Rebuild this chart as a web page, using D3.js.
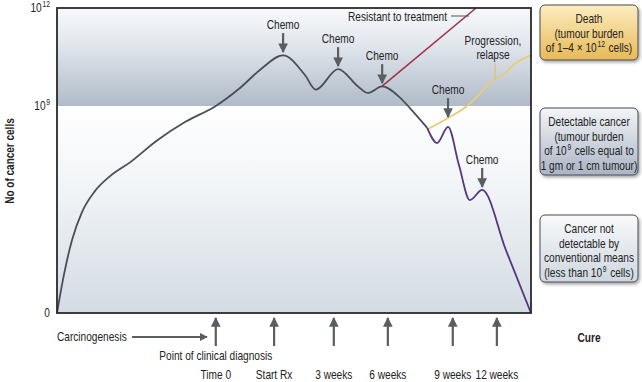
<!DOCTYPE html>
<html>
<head>
<meta charset="utf-8">
<script src="https://cdn.jsdelivr.net/npm/d3@7"></script>
<style>
  body { margin: 0; background: #fff; }
  text { font-family: "Liberation Sans", Arial, sans-serif; fill: #222; font-size: 13.5px; white-space: pre; }
</style>
</head>
<body>
<div id="chart"></div>
<script>
// Tumour growth vs time (log cells). Time is in arbitrary units 0..100 across the plot.

// main growth curve, grey (t, log10 cells)
var growth = [[0,0],[1.5,1.7],[3.2,3.2],[5.3,4.4],[8,5.3],[11.2,5.95],[15.4,6.55],[21.1,7.5],[27,8.3],
  [33.5,9.0],[38.6,9.55],[42.8,10.1],[47.7,10.55],[52.3,9.95],[54.6,9.5],[59.3,10.13],[63.5,9.6],
  [65.6,9.4],[68.6,9.6],[72.4,9.25],[74.5,8.9],[78.1,8.05]];
// response to further chemo, purple
var response = [[78.1,8.05],[80.2,7.39],[82.5,8.09],[84.8,6.43],[87.1,4.91],[89.7,5.35],[94.7,2.74],[100,0]];
// relapse, yellow
var relapse = [[78.3,8.0],[82.5,8.48],[86.5,9.0],[89.2,9.37],[92.0,9.8],[94.5,10.0],[96.2,10.25],[100,10.56]];
// resistant, red
var resistant = [[68.6,9.61],[88.4,12]];

// chemo arrows: time and level of arrow tip
var chemoT = [47.7, 59.3, 68.6, 82.5, 89.7];
var chemoV = [10.65, 10.22, 9.7, 8.52, 5.48];

// timeline marks along the bottom
var timeT = [33.5, 45.8, 58.4, 69.8, 83.5, 92.8];
var timeLabels = ["Time 0", "Start Rx", "3 weeks", "6 weeks", "9 weeks", "12 weeks"];

// y ticks
var yTicks = [0, 9, 12];

// boxes on the right, each line is a list of [text, isSuperscript]
var boxLines = [
  [[["Death"]], [["(tumour burden"]], [["of 1–4 × 10"], ["12", 1], [" cells)"]]],
  [[["Detectable cancer"]], [["(tumour burden"]], [["of 10"], ["9", 1], [" cells equal to"]], [["1 gm or 1 cm tumour)"]]],
  [[["Cancer not"]], [["detectable by"]], [["conventional means"]], [["(less than 10"], ["9", 1], [" cells)"]]]
];

var width = 642, height = 382;
var narrow = 0.75; // horizontal squeeze to mimic a narrow face
var svg = d3.select("#chart").append("svg").attr("width", width).attr("height", height);
var defs = svg.append("defs");

var x = d3.scaleLinear().domain([0, 100]).range([57, 531]);
var y = d3.scaleLinear().domain([0, 9, 12]).range([313, 106, 8]);

// text squeezed horizontally; segmented lines are laid out piece by piece (superscripts raised)
function label(parent, px, py, segs, anchor) {
  var g = parent.append("g").attr("transform", "translate(" + px + "," + py + ") scale(" + narrow + ",1)");
  if (typeof segs === "string") {
    return g.append("text").attr("text-anchor", anchor || "middle").text(segs);
  }
  var parts = segs.map(function(s) {
    var t = g.append("text").text(s[0]);
    if (s[1]) t.attr("y", -5).style("font-size", "9px");
    return t;
  });
  var gap = 1;
  var widths = parts.map(function(t) { return t.node().getComputedTextLength(); });
  var total = d3.sum(widths) + gap * (parts.length - 1);
  var start = anchor === "end" ? -total : anchor === "start" ? 0 : -total / 2;
  parts.forEach(function(t, i) { t.attr("x", start); start += widths[i] + gap; });
  return g;
}

function grad(id, stops) {
  var g = defs.append("linearGradient").attr("id", id).attr("x1", 0).attr("y1", 0).attr("x2", 0).attr("y2", 1);
  stops.forEach(function(s) { g.append("stop").attr("offset", s[0]).attr("stop-color", s[1]); });
}
grad("gTop", [[0, "#f7f9fb"], [0.35, "#e3e8ee"], [1, "#b0bbc8"]]);
grad("gBot", [[0, "#ffffff"], [0.4, "#f1f4f7"], [1, "#d3dbe3"]]);
grad("gDeath", [[0, "#fcedc0"], [1, "#e8b957"]]);
grad("gDetect", [[0, "#f3f5f8"], [1, "#a9b5c4"]]);
grad("gNot", [[0, "#f8f9fb"], [1, "#cfd7e0"]]);
var boxFill = ["url(#gDeath)", "url(#gDetect)", "url(#gNot)"];

var shadow = defs.append("filter").attr("id", "shadow").attr("x", "-10%").attr("y", "-10%").attr("width", "130%").attr("height", "130%");
shadow.append("feDropShadow").attr("dx", 1.5).attr("dy", 2).attr("stdDeviation", 1.5).attr("flood-color", "#000").attr("flood-opacity", 0.35);

defs.append("marker").attr("id", "head").attr("viewBox", "0 0 10 10").attr("refX", 9).attr("refY", 5)
  .attr("markerWidth", 4.4).attr("markerHeight", 4.4).attr("orient", "auto")
  .append("path").attr("d", "M0,0L10,5L0,10z").attr("fill", "#5a5d62");

// background bands
svg.append("rect").attr("x", x(0)).attr("y", y(12)).attr("width", x(100) - x(0)).attr("height", y(9) - y(12)).attr("fill", "url(#gTop)");
svg.append("rect").attr("x", x(0)).attr("y", y(9)).attr("width", x(100) - x(0)).attr("height", y(0) - y(9)).attr("fill", "url(#gBot)");

// curves
var line = d3.line().x(function(d) { return x(d[0]); }).y(function(d) { return y(d[1]); }).curve(d3.curveMonotoneX);
svg.append("path").attr("d", line(relapse)).attr("fill", "none").attr("stroke", "#e9cc7a").attr("stroke-width", 1.8);
svg.append("path").attr("d", d3.line().x(function(d) { return x(d[0]); }).y(function(d) { return y(d[1]); })(resistant))
  .attr("fill", "none").attr("stroke", "#a3324a").attr("stroke-width", 1.6);
svg.append("path").attr("d", line(response)).attr("fill", "none").attr("stroke", "#55357f").attr("stroke-width", 1.8);
svg.append("path").attr("d", line(growth)).attr("fill", "none").attr("stroke", "#4b4e54").attr("stroke-width", 1.8);

// frame
svg.append("rect").attr("x", x(0)).attr("y", y(12)).attr("width", x(100) - x(0)).attr("height", y(0) - y(12))
  .attr("fill", "none").attr("stroke", "#2a2a2a").attr("stroke-width", 1.8);

// y tick labels
yTicks.forEach(function(v) {
  label(svg, 50, y(v) + 4, v === 0 ? "0" : [["10"], [String(v), 1]], "end");
});
svg.append("text").attr("transform", "translate(14,161) rotate(-90) scale(0.8,1)").attr("text-anchor", "middle")
  .style("font-size", "12.5px").style("font-weight", "bold").text("No of cancer cells");

// chemo arrows
chemoT.forEach(function(t, i) {
  var tip = y(chemoV[i]);
  svg.append("line").attr("x1", x(t)).attr("x2", x(t)).attr("y1", tip - 19).attr("y2", tip)
    .attr("stroke", "#5a5d62").attr("stroke-width", 2.2).attr("marker-end", "url(#head)");
  label(svg, x(t), tip - 23, "Chemo");
});

// annotations
label(svg, 447, 21, "Resistant to treatment", "end");
svg.append("line").attr("x1", 451).attr("x2", 469).attr("y1", 16).attr("y2", 16).attr("stroke", "#555").attr("stroke-width", 1);
label(svg, 493, 45, "Progression,");
label(svg, 493, 59, "relapse");
svg.append("line").attr("x1", 495).attr("x2", 495).attr("y1", 63).attr("y2", 80).attr("stroke", "#e0c070").attr("stroke-width", 1.2);

// timeline arrows
timeT.forEach(function(t, i) {
  svg.append("line").attr("x1", x(t)).attr("x2", x(t)).attr("y1", 346).attr("y2", 318)
    .attr("stroke", "#5a5d62").attr("stroke-width", 2.2).attr("marker-end", "url(#head)");
  label(svg, x(t), 379, timeLabels[i]);
});
label(svg, x(0), 341, "Carcinogenesis", "start");
svg.append("line").attr("x1", 132).attr("x2", 207).attr("y1", 337).attr("y2", 337)
  .attr("stroke", "#5a5d62").attr("stroke-width", 1.8).attr("marker-end", "url(#head)");
label(svg, x(timeT[0]), 360, "Point of clinical diagnosis");
label(svg, 589, 342, "Cure").style("font-weight", "bold");

// right-hand boxes
var boxTop = [5, 108, 215];
boxLines.forEach(function(lines, i) {
  var h = lines.length === 3 ? 55 : 67;
  var g = svg.append("g");
  g.append("rect").attr("x", 540).attr("y", boxTop[i]).attr("width", 98).attr("height", h).attr("rx", 5)
    .attr("fill", boxFill[i]).attr("stroke", "#4a4d52").attr("stroke-width", 1).attr("filter", "url(#shadow)");
  lines.forEach(function(segs, j) {
    label(g, 589, boxTop[i] + 18 + j * 14.7, segs);
  });
});
</script>
</body>
</html>
